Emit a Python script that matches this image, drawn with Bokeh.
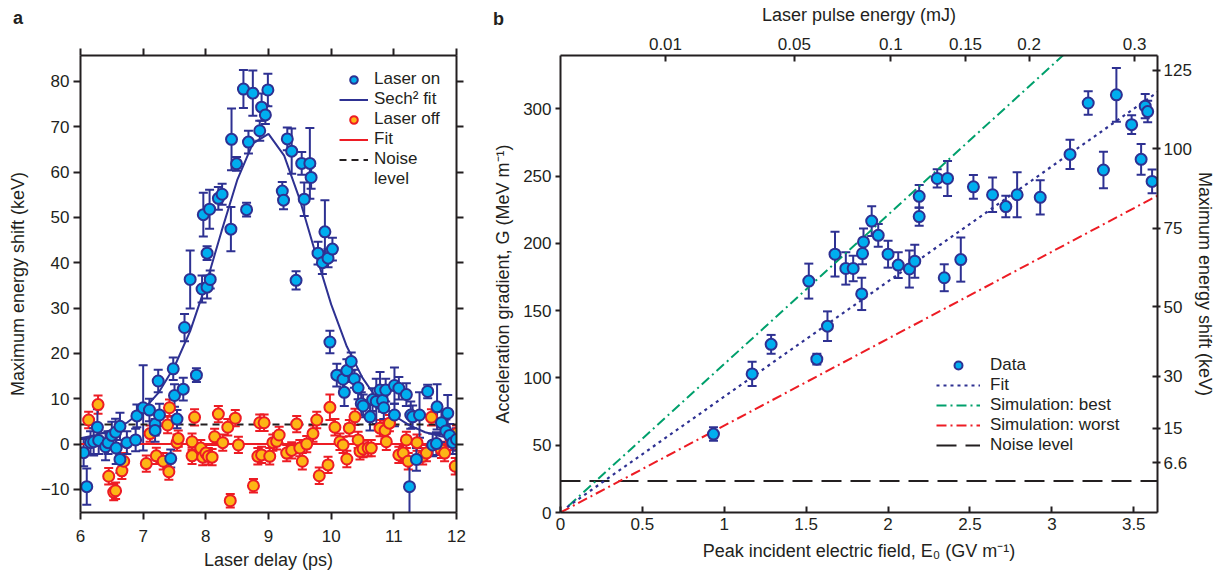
from bokeh.plotting import figure
from bokeh.models import (ColumnDataSource, Whisker, TeeHead, LinearAxis, FixedTicker,
                          Legend, LegendItem, Range1d, Div)
from bokeh.layouts import row, column
from bokeh.embed import file_html
from bokeh.resources import INLINE

FONT = "Liberation Sans"
INK = "#231F20"
NAVY = "#2E3192"
CYAN = "#00AEEF"
ORANGE = "#FDB515"
RED = "#ED1C24"
GREEN = "#00A06C"

# ---------------- Panel a data ----------------
on_delay = [6.05, 6.10, 6.16, 6.21, 6.27, 6.29, 6.40, 6.44, 6.50, 6.56, 6.57, 6.63, 6.63, 6.74, 6.88,
            6.90, 7.00, 7.10, 7.19, 7.19, 7.24, 7.26, 7.44, 7.48, 7.50, 7.54, 7.64, 7.66, 7.75, 7.85,
            7.94, 7.96, 8.02, 8.02, 8.06, 8.07, 8.20, 8.26, 8.40, 8.41, 8.49, 8.60, 8.65, 8.68, 8.75,
            8.86, 8.89, 8.95, 8.99, 9.22, 9.24, 9.30, 9.37, 9.44, 9.53, 9.57, 9.66, 9.68, 9.79, 9.86,
            9.90, 9.95, 9.98, 10.02, 10.09, 10.19, 10.21, 10.25, 10.32, 10.37, 10.43, 10.48, 10.51,
            10.62, 10.66, 10.72, 10.78, 10.82, 10.84, 10.87, 11.01, 11.01, 11.08, 11.20, 11.25, 11.27,
            11.30, 11.36, 11.41, 11.54, 11.62, 11.68, 11.69, 11.76, 11.83, 11.86, 11.89, 11.94, 12.00]
on_shift = [-1.9, -9.4, 0.3, 0.5, 3.7, 0.8, -0.6, 0.3, 1.9, 2.6, -0.9, 3.9, -3.4, 0.3, 0.9,
            6.2, 8.0, 7.5, 4.4, 3.0, 13.9, 6.4, -3.2, 16.6, 10.7, 5.5, 12.1, 25.7, 36.3, 15.2,
            34.2, 50.6, 34.6, 42.1, 51.8, 36.3, 54.2, 55.1, 47.4, 67.2, 61.8, 78.3, 51.7, 66.6, 77.4,
            69.1, 74.3, 72.6, 78.1, 55.8, 53.8, 67.3, 64.6, 36.1, 61.9, 54.0, 61.9, 58.8, 42.1, 40.0,
            46.8, 41.0, 22.5, 43.0, 15.2, 14.3, 11.4, 16.2, 18.2, 14.4, 12.4, 8.9, 8.4,
            6.0, 9.8, 9.4, 11.9, 9.6, 8.0, 11.9, 12.9, 6.4, 12.3, 10.9, -9.4, 6.4,
            6.0, -3.4, 6.4, 11.6, -0.2, 0.1, 8.2, 4.7, 2.9, 6.8, 1.9, 0.3, 1.0]
on_err = [3.0, 4.0, 2.5, 3.0, 4.0, 3.0, 3.0, 2.5, 3.0, 3.0, 3.5, 3.0, 3.0, 2.5, 2.5,
          2.5, 9.4, 2.5, 2.5, 2.5, 2.5, 2.5, 2.0, 2.5, 2.5, 2.0, 2.5, 3.0, 6.4, 1.5,
          3.0, 4.8, 2.5, 1.5, 4.3, 2.0, 2.5, 2.3, 4.9, 6.8, 1.5, 4.2, 1.5, 2.5, 5.0,
          2.2, 3.0, 2.0, 3.6, 2.0, 2.0, 2.5, 5.0, 2.0, 2.5, 3.7, 7.8, 2.5, 2.5, 2.5,
          7.0, 2.0, 2.5, 2.5, 2.5, 2.0, 3.0, 2.5, 2.0, 2.0, 2.5, 2.5, 2.5,
          3.0, 2.5, 5.0, 4.0, 2.5, 2.5, 2.5, 4.0, 2.5, 2.5, 2.5, 6.0, 3.0,
          2.5, 2.5, 5.0, 1.5, 2.5, 2.5, 5.0, 2.5, 2.5, 4.0, 2.5, 2.5, 2.5]

off_delay = [6.13, 6.28, 6.45, 6.53, 6.56, 6.66, 6.69, 7.05, 7.11, 7.21, 7.32, 7.39, 7.41, 7.42,
             7.54, 7.56, 7.78, 7.78, 7.82, 7.92, 7.95, 8.00, 8.04, 8.10, 8.14, 8.20, 8.27, 8.35,
             8.39, 8.47, 8.52, 8.76, 8.83, 8.86, 8.89, 8.93, 9.02, 9.07, 9.13, 9.17, 9.29, 9.37,
             9.45, 9.50, 9.54, 9.61, 9.71, 9.77, 9.81, 9.95, 9.98, 10.06, 10.14, 10.19, 10.25,
             10.29, 10.38, 10.43, 10.46, 10.51, 10.59, 10.64, 10.78, 10.86, 10.88, 10.93, 11.08,
             11.15, 11.20, 11.23, 11.37, 11.46, 11.52, 11.60, 11.76, 11.81, 11.92, 11.98, 12.00]
off_shift = [5.3, 8.7, -7.1, -10.6, -10.3, -5.9, -3.8, -4.3, 2.3, -2.6, -3.8, 4.2, -6.1, 8.0,
             0.3, 1.2, 0.5, -2.6, 5.9, -0.9, -2.9, -2.0, -2.7, -2.9, 1.6, 6.6, 0.3, 3.7,
             -12.5, 5.7, -0.2, -9.2, -2.7, 4.7, -2.4, 4.7, -2.7, 0.3, 0.6, 2.0, -2.0, -1.4,
             4.4, -0.9, -3.8, 0.0, 2.3, 5.3, -7.0, -4.6, 8.1, 3.7, 0.5, -0.2, -3.3,
             3.5, 6.0, 0.9, -1.6, -1.1, -0.9, -0.9, 3.5, 3.0, 0.5, 4.6, -2.4,
             -2.0, 0.9, -3.8, 0.3, -2.7, -2.0, 5.9, -1.3, -2.0, 0.5, -4.9, 2.3]
off_err = [1.8, 2.0, 1.8, 1.8, 1.8, 1.8, 1.8, 1.8, 1.8, 1.8, 1.8, 1.8, 1.8, 1.8,
           1.8, 1.8, 1.8, 1.8, 1.8, 1.8, 1.8, 1.8, 1.8, 1.8, 1.8, 1.8, 1.8, 1.8,
           1.5, 1.8, 1.8, 1.5, 1.8, 1.8, 1.8, 1.8, 1.8, 1.8, 1.8, 1.8, 1.8, 1.8,
           1.8, 1.8, 1.8, 1.8, 1.8, 1.8, 1.8, 1.8, 2.8, 1.8, 1.8, 1.8, 1.8,
           1.8, 1.8, 1.8, 1.8, 1.8, 1.8, 1.8, 1.8, 1.8, 1.8, 1.8, 1.8,
           1.8, 1.8, 1.8, 1.8, 1.8, 1.8, 1.8, 1.8, 1.8, 1.8, 1.8, 1.8]

sech_delay = [6.0, 6.25, 6.5, 6.75, 7.0, 7.25, 7.5, 7.75, 8.0, 8.25, 8.5, 8.75, 9.0,
              9.25, 9.5, 9.75, 10.0, 10.25, 10.5, 10.75, 11.0, 11.25, 11.5, 11.75, 12.0]
sech_shift = [1.3, 2.0, 3.1, 4.8, 7.5, 11.4, 17.1, 24.9, 35.1, 46.9, 58.2, 66.3, 68.4,
              63.6, 53.9, 42.1, 30.8, 21.5, 14.6, 9.6, 6.3, 4.1, 2.6, 1.7, 1.1]

a_delay_range = [6.0, 12.0]
a_shift_range = [-15.1, 85.7]
off_fit_level = 0.0
a_noise_level = 4.3
a_xticks = [6, 7, 8, 9, 10, 11, 12]
a_yticks = [-10, 0, 10, 20, 30, 40, 50, 60, 70, 80]

# ---------------- Panel b data ----------------
b_field = [0.934, 1.17, 1.286, 1.516, 1.565, 1.63, 1.676, 1.742, 1.787, 1.839, 1.844, 1.85,
           1.90, 1.94, 2.00, 2.062, 2.13, 2.163, 2.19, 2.19, 2.30, 2.343, 2.363, 2.444,
           2.521, 2.638, 2.719, 2.788, 2.929, 3.111, 3.222, 3.315, 3.394, 3.487, 3.545,
           3.57, 3.585, 3.612]
b_grad = [58.3, 103.0, 125.0, 172.0, 114.0, 138.5, 192.0, 181.4, 181.4, 162.5, 192.5, 201.1,
          216.6, 206.0, 192.0, 183.9, 181.0, 186.8, 235.0, 220.0, 248.3, 174.5, 248.3, 188.0,
          242.1, 236.2, 227.4, 236.2, 234.3, 266.2, 304.4, 254.6, 310.5, 288.3, 262.5,
          302.0, 298.0, 246.1]
b_err = [5.0, 9.0, 7.0, 13.0, 4.0, 11.0, 16.6, 12.0, 9.5, 12.0, 8.0, 10.0,
         11.0, 8.4, 10.0, 9.6, 13.8, 12.3, 8.4, 6.8, 6.8, 10.0, 13.0, 16.4,
         8.8, 12.9, 8.0, 16.8, 12.7, 10.8, 8.8, 13.5, 20.0, 7.0, 11.4,
         9.0, 8.0, 8.8]

fit_field = [0.04, 3.645]
fit_grad = [4.0, 312.5]
best_field = [0.05, 3.07]
best_grad = [5.0, 340.0]
worst_field = [0.0, 3.645]
worst_grad = [0.0, 235.5]
b_noise_level = 23.4
b_field_range = [0.0, 3.645]
b_grad_range = [0.0, 339.7]
b_xticks = [0, 0.5, 1, 1.5, 2, 2.5, 3, 3.5]
b_yticks = [0, 50, 100, 150, 200, 250, 300]

pulse_energy_labels = ["0.01", "0.05", "0.1", "0.15", "0.2", "0.3"]
pulse_energy_field = [0.641, 1.428, 2.017, 2.473, 2.861, 3.505]
max_shift_labels = ["6.6", "15", "30", "50", "75", "100", "125"]
max_shift_grad = [36.9, 62.8, 101.2, 152.9, 211.2, 270.3, 328.7]

panel_letters = ["a", "b"]

W_A, W_B, H = 490, 727, 572


def style_axis(ax, tick_in, tick_out, show_labels=True):
    ax.axis_line_color = INK
    ax.axis_line_width = 2
    ax.major_tick_line_color = INK
    ax.major_tick_line_width = 2
    ax.major_tick_in = tick_in
    ax.major_tick_out = tick_out
    ax.minor_tick_line_color = None
    ax.major_label_text_font = FONT
    ax.major_label_text_font_size = "17px"
    ax.major_label_text_color = INK if show_labels else None
    ax.axis_label_text_font = FONT
    ax.axis_label_text_font_size = "18px"
    ax.axis_label_text_font_style = "normal"
    ax.axis_label_text_color = INK


# ---------------- Panel a ----------------
pa = figure(width=W_A, height=H, output_backend="svg", toolbar_location=None,
            x_range=Range1d(*a_delay_range), y_range=Range1d(*a_shift_range),
            min_border_left=80, min_border_right=34, min_border_top=48, min_border_bottom=57,
            x_axis_label="Laser delay (ps)", y_axis_label="Maximum energy shift (keV)")
pa.grid.visible = False
pa.outline_line_color = None

pa.xaxis[0].ticker = FixedTicker(ticks=a_xticks)
pa.yaxis[0].ticker = FixedTicker(ticks=a_yticks)
style_axis(pa.xaxis[0], 0, 7)
style_axis(pa.yaxis[0], 0, 7)
pa.xaxis[0].major_label_standoff = 10
pa.xaxis[0].axis_label_standoff = 5
pa.yaxis[0].major_label_standoff = 4
pa.yaxis[0].axis_label_standoff = 10
a_top = LinearAxis(ticker=FixedTicker(ticks=a_xticks))
a_right = LinearAxis(ticker=FixedTicker(ticks=a_yticks))
style_axis(a_top, 0, 7, show_labels=False)
style_axis(a_right, 0, 7, show_labels=False)
pa.add_layout(a_top, "above")
pa.add_layout(a_right, "right")

on_src = ColumnDataSource(dict(x=on_delay, y=on_shift,
                               lo=[v - e for v, e in zip(on_shift, on_err)],
                               hi=[v + e for v, e in zip(on_shift, on_err)]))
off_src = ColumnDataSource(dict(x=off_delay, y=off_shift,
                                lo=[v - e for v, e in zip(off_shift, off_err)],
                                hi=[v + e for v, e in zip(off_shift, off_err)]))

pa.add_layout(Whisker(source=off_src, base="x", lower="lo", upper="hi", line_color=RED, line_width=2,
                      lower_head=TeeHead(size=9, line_color=RED, line_width=2),
                      upper_head=TeeHead(size=9, line_color=RED, line_width=2)))
pa.add_layout(Whisker(source=on_src, base="x", lower="lo", upper="hi", line_color=NAVY, line_width=2,
                      lower_head=TeeHead(size=9, line_color=NAVY, line_width=2),
                      upper_head=TeeHead(size=9, line_color=NAVY, line_width=2)))

r_offfit = pa.line(a_delay_range, [off_fit_level, off_fit_level], line_color=RED, line_width=2)
r_noise_a = pa.line(a_delay_range, [a_noise_level, a_noise_level], line_color=INK, line_width=2,
                    line_dash="7 5")
r_off = pa.scatter("x", "y", source=off_src, size=11, fill_color=ORANGE, line_color=RED, line_width=2)
r_sech = pa.line(sech_delay, sech_shift, line_color=NAVY, line_width=2)
r_on = pa.scatter("x", "y", source=on_src, size=11, fill_color=CYAN, line_color=NAVY, line_width=2)
r_blank = pa.line([], [], line_alpha=0)

leg_a = Legend(items=[LegendItem(label="Laser on", renderers=[r_on]),
                      LegendItem(label="Sech² fit", renderers=[r_sech]),
                      LegendItem(label="Laser off", renderers=[r_off]),
                      LegendItem(label="Fit", renderers=[r_offfit]),
                      LegendItem(label="Noise", renderers=[r_noise_a]),
                      LegendItem(label="level", renderers=[r_blank])],
               location=(259, 323), glyph_width=29, glyph_height=19, label_height=19,
               label_standoff=6, spacing=0, padding=0, margin=0,
               border_line_color=None, background_fill_alpha=0,
               label_text_font=FONT, label_text_font_size="17px", label_text_color=INK)
pa.add_layout(leg_a)

# ---------------- Panel b ----------------
pb = figure(width=W_B, height=H, output_backend="svg", toolbar_location=None,
            x_range=Range1d(*b_field_range), y_range=Range1d(*b_grad_range),
            min_border_left=67, min_border_right=60, min_border_top=55, min_border_bottom=57,
            x_axis_label="Peak incident electric field, E₀ (GV m⁻¹)",
            y_axis_label="Acceleration gradient, G (MeV m⁻¹)")
pb.grid.visible = False
pb.outline_line_color = None

pb.xaxis[0].ticker = FixedTicker(ticks=b_xticks)
pb.yaxis[0].ticker = FixedTicker(ticks=b_yticks)
style_axis(pb.xaxis[0], 6, 0)
style_axis(pb.yaxis[0], 0, 5)
pb.xaxis[0].major_label_standoff = 5
pb.xaxis[0].axis_label_standoff = 8
pb.yaxis[0].major_label_standoff = 4
pb.yaxis[0].axis_label_standoff = 7

b_top = LinearAxis(ticker=FixedTicker(ticks=pulse_energy_field),
                   major_label_overrides=dict(zip(pulse_energy_field, pulse_energy_labels)),
                   axis_label="Laser pulse energy (mJ)")
style_axis(b_top, 6, 0)
b_top.major_label_standoff = 6
b_top.axis_label_standoff = 10
pb.add_layout(b_top, "above")

b_right = LinearAxis(ticker=FixedTicker(ticks=max_shift_grad),
                     major_label_overrides=dict(zip(max_shift_grad, max_shift_labels)),
                     axis_label="Maximum energy shift (keV)")
style_axis(b_right, 5, 3)
b_right.major_label_standoff = 3
b_right.axis_label_standoff = 0
pb.add_layout(b_right, "right")

b_src = ColumnDataSource(dict(x=b_field, y=b_grad,
                              lo=[v - e for v, e in zip(b_grad, b_err)],
                              hi=[v + e for v, e in zip(b_grad, b_err)]))
pb.add_layout(Whisker(source=b_src, base="x", lower="lo", upper="hi", line_color=NAVY, line_width=2,
                      lower_head=TeeHead(size=9, line_color=NAVY, line_width=2),
                      upper_head=TeeHead(size=9, line_color=NAVY, line_width=2)))

r_noise_b = pb.line(b_field_range, [b_noise_level, b_noise_level], line_color=INK, line_width=2,
                    line_dash="20 9")
r_worst = pb.line(worst_field, worst_grad, line_color=RED, line_width=2, line_dash="10 4 2 4")
r_best = pb.line(best_field, best_grad, line_color=GREEN, line_width=2, line_dash="10 4 2 4")
r_fit = pb.line(fit_field, fit_grad, line_color=NAVY, line_width=2.2, line_dash="3 4")
r_data = pb.scatter("x", "y", source=b_src, size=11, fill_color=CYAN, line_color=NAVY, line_width=2)

leg_b = Legend(items=[LegendItem(label="Data", renderers=[r_data]),
                      LegendItem(label="Fit", renderers=[r_fit]),
                      LegendItem(label="Simulation: best", renderers=[r_best]),
                      LegendItem(label="Simulation: worst", renderers=[r_worst]),
                      LegendItem(label="Noise level", renderers=[r_noise_b])],
               location=(376, 57), glyph_width=44, glyph_height=20, label_height=20,
               label_standoff=10, spacing=0, padding=0, margin=0,
               border_line_color=None, background_fill_alpha=0,
               label_text_font=FONT, label_text_font_size="17px", label_text_color=INK)
pb.add_layout(leg_b)

# ---------------- Panel letters (HTML overlay on top of the two figures) ----------------
letter_style = ("position:absolute;margin:0;padding:0;line-height:22px;"
                "font-family:'Liberation Sans',Arial,sans-serif;font-weight:bold;"
                "font-size:18px;color:%s;" % INK)
letters_html = ('<div style="position:relative;width:%dpx;height:30px;">'
                '<span style="%sleft:13px;top:7px;">%s</span>'
                '<span style="%sleft:493px;top:8px;">%s</span></div>'
                % (W_A + W_B, letter_style, panel_letters[0], letter_style, panel_letters[1]))
letters = Div(text=letters_html, width=W_A + W_B, height=30, margin=(-H, 0, 0, 0))

layout = column(row(pa, pb, spacing=0), letters, spacing=0)
open("out.html", "w").write(file_html(layout, INLINE))
